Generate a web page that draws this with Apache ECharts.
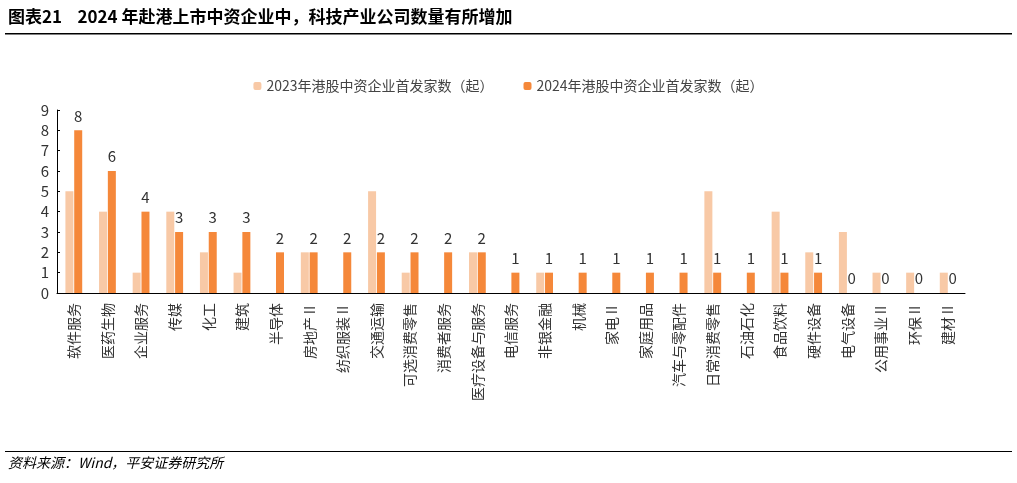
<!DOCTYPE html>
<html><head><meta charset="utf-8">
<script src="https://cdn.jsdelivr.net/npm/echarts@6/dist/echarts.min.js"></script>
<style>body{margin:0;background:#fff}#container{width:1017px;height:483px}</style>
</head><body><div id="container"></div>
<script>
var categories = ['软件服务','医药生物','企业服务','传媒','化工','建筑','半导体','房地产Ⅱ','纺织服装Ⅱ','交通运输','可选消费零售','消费者服务','医疗设备与服务','电信服务','非银金融','机械','家电Ⅱ','家庭用品','汽车与零配件','日常消费零售','石油石化','食品饮料','硬件设备','电气设备','公用事业Ⅱ','环保Ⅱ','建材Ⅱ'];
var ipo2023 = [5,4,1,4,2,1,0,2,0,5,1,0,2,0,1,0,0,0,0,5,0,4,2,3,1,1,1];
var ipo2024 = [8,6,4,3,3,3,2,2,2,2,2,2,2,1,1,1,1,1,1,1,1,1,1,0,0,0,0];
var yTicks = [0,1,2,3,4,5,6,7,8,9];

var myChart = echarts.init(document.getElementById('container'));
var font = '"Noto Sans CJK SC", sans-serif';
option = {
    animation: false,
    textStyle: {fontFamily: font},
    graphic: [
        {type: 'text', left: 8, top: 8, style: {text: '图表21    2024 年赴港上市中资企业中，科技产业公司数量有所增加', font: 'bold 17px ' + font, fill: '#000'}},
        {type: 'rect', shape: {x: 5, y: 33, width: 1007, height: 1.5}, style: {fill: '#000'}},
        {type: 'rect', shape: {x: 5, y: 451, width: 1007, height: 1}, style: {fill: '#000'}},
        {type: 'text', left: 8, top: 456, style: {text: '资料来源：Wind，平安证券研究所', font: 'italic 14px ' + font, fill: '#000'}}
    ],
    legend: {
        top: 74, left: 'center', itemWidth: 8, itemHeight: 8, itemGap: 30,
        textStyle: {fontSize: 14, color: '#444', fontFamily: font},
        data: ['2023年港股中资企业首发家数（起）', '2024年港股中资企业首发家数（起）']
    },
    grid: {left: 57, right: 52, top: 110, bottom: 190},
    xAxis: {
        type: 'category', data: categories,
        axisLine: {lineStyle: {color: '#000'}},
        axisTick: {show: false},
        axisLabel: {rotate: 90, fontSize: 14, color: '#333', interval: 0, margin: 10}
    },
    yAxis: {
        type: 'value', min: 0, max: 9, interval: 1,
        splitLine: {show: false},
        axisLine: {show: true, lineStyle: {color: '#000'}},
        axisTick: {show: true, inside: true, length: 3},
        axisLabel: {fontSize: 15, color: '#333', formatter: function (v) { return yTicks.indexOf(v) >= 0 ? v : ''; }}
    },
    series: [
        {name: '2023年港股中资企业首发家数（起）', type: 'bar', data: ipo2023, barWidth: 8, barGap: '10%', itemStyle: {color: '#F8C9A6'}},
        {name: '2024年港股中资企业首发家数（起）', type: 'bar', data: ipo2024, barWidth: 8, itemStyle: {color: '#F5883A'},
         label: {show: true, position: 'top', fontSize: 15, color: '#333', offset: [0, -2]}}
    ]
};
myChart.setOption(option, true);
</script></body></html>
